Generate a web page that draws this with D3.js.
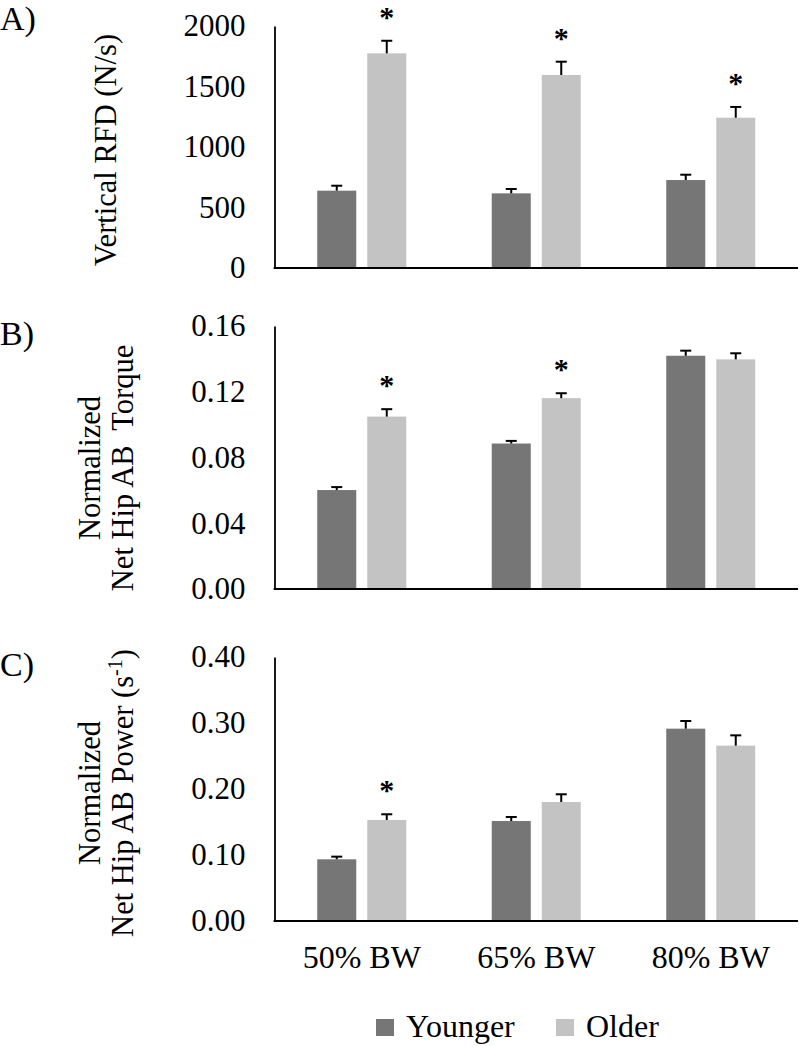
<!DOCTYPE html>
<html><head><meta charset="utf-8">
<script src="https://cdn.jsdelivr.net/npm/d3@7"></script>
<style>
html,body{margin:0;padding:0;background:#fff;}
text{font-family:"Liberation Serif","Times New Roman",serif;fill:#000;}
</style></head>
<body><svg id="c" width="800" height="1046"></svg>
<script>
const categories = ["50% BW", "65% BW", "80% BW"];
const series = ["Younger", "Older"];

const rfdYounger = [639, 617, 727];
const rfdYoungerErr = [41, 36, 44];
const rfdOlder = [1774, 1595, 1242];
const rfdOlderErr = [104, 110, 89];
const rfdSig = [true, true, true];
const rfdTicks = [0, 500, 1000, 1500, 2000];

const torqueYounger = [0.0602, 0.0885, 0.1419];
const torqueYoungerErr = [0.0018, 0.0016, 0.0031];
const torqueOlder = [0.1049, 0.1161, 0.1397];
const torqueOlderErr = [0.0045, 0.0030, 0.0037];
const torqueSig = [true, true, false];
const torqueTicks = [0, 0.04, 0.08, 0.12, 0.16];

const powerYounger = [0.0935, 0.1515, 0.2914];
const powerYoungerErr = [0.0040, 0.0061, 0.0116];
const powerOlder = [0.1530, 0.1803, 0.2657];
const powerOlderErr = [0.0087, 0.0117, 0.0156];
const powerSig = [true, false, false];
const powerTicks = [0, 0.10, 0.20, 0.30, 0.40];

const colors = {"Younger": "#767676", "Older": "#c3c3c3"};
const TICK_FONT = 31, TITLE_FONT = 30.5, CAT_FONT = 32, LEG_FONT = 32, PANEL_FONT = 34;

const svg = d3.select("#c");
const axisX0 = 274.5, axisX1 = 798;

const x0 = d3.scaleBand().domain(categories).range([axisX0, axisX1]).padding(0);
const bw = x0.bandwidth();
const pairW = 89;
const x1 = d3.scaleBand().domain(series).range([(bw - pairW) / 2, (bw + pairW) / 2]).paddingInner(0.22).paddingOuter(0);

const panels = [
  {label: "A)", labelY: 30, top: 26, bottom: 268, max: 2000, ticks: rfdTicks, fmt: d3.format("d"),
   vals: {Younger: rfdYounger, Older: rfdOlder}, errs: {Younger: rfdYoungerErr, Older: rfdOlderErr}, sig: rfdSig,
   title: [["Vertical RFD (N/s)"]], titleY: 150},
  {label: "B)", labelY: 345, top: 326, bottom: 589, max: 0.16, ticks: torqueTicks, fmt: d3.format(".2f"),
   vals: {Younger: torqueYounger, Older: torqueOlder}, errs: {Younger: torqueYoungerErr, Older: torqueOlderErr}, sig: torqueSig,
   title: [["Normalized"], ["Net Hip AB\u00a0 Torque"]], titleY: 468},
  {label: "C)", labelY: 676, top: 657, bottom: 921, max: 0.40, ticks: powerTicks, fmt: d3.format(".2f"),
   vals: {Younger: powerYounger, Older: powerOlder}, errs: {Younger: powerYoungerErr, Older: powerOlderErr}, sig: powerSig,
   title: [["Normalized"], ["Net Hip AB Power (s", "-1", ")"]], titleY: 793}
];

panels.forEach((p, pi) => {
  const y = d3.scaleLinear().domain([0, p.max]).range([p.bottom, p.top]);
  const g = svg.append("g");

  // panel label
  g.append("text").attr("x", 0).attr("y", p.labelY).attr("font-size", PANEL_FONT).text(p.label);

  // bars
  const data = [];
  categories.forEach((c, i) => series.forEach(s => data.push({c, s, v: p.vals[s][i], e: p.errs[s][i], sig: s === "Older" && p.sig[i]})));

  g.selectAll("rect.bar").data(data).join("rect")
    .attr("class", "bar")
    .attr("x", d => x0(d.c) + x1(d.s))
    .attr("width", x1.bandwidth())
    .attr("y", d => y(d.v))
    .attr("height", d => y(0) - y(d.v))
    .attr("fill", d => colors[d.s]);

  // error bars
  const eb = g.selectAll("g.err").data(data).join("g").attr("class", "err")
    .attr("transform", d => `translate(${x0(d.c) + x1(d.s) + x1.bandwidth() / 2},0)`);
  eb.append("line").attr("x1", 0).attr("x2", 0)
    .attr("y1", d => y(d.v)).attr("y2", d => y(d.v + d.e))
    .attr("stroke", "#000").attr("stroke-width", 2);
  eb.append("line").attr("x1", -5.5).attr("x2", 5.5)
    .attr("y1", d => y(d.v + d.e)).attr("y2", d => y(d.v + d.e))
    .attr("stroke", "#000").attr("stroke-width", 2);

  // significance
  g.selectAll("text.sig").data(data.filter(d => d.sig)).join("text")
    .attr("class", "sig")
    .attr("x", d => x0(d.c) + x1(d.s) + x1.bandwidth() / 2)
    .attr("y", d => y(d.v + d.e) - 14)
    .attr("text-anchor", "middle").attr("font-size", 30).attr("font-weight", "bold").text("*");

  // y axis
  const ax = g.append("g").attr("transform", `translate(${axisX0},0)`)
    .call(d3.axisLeft(y).tickValues(p.ticks).tickFormat(p.fmt).tickSize(0).tickPadding(29));
  ax.select(".domain").attr("stroke", "#000").attr("stroke-width", 1.8);
  ax.selectAll(".tick text").attr("font-size", TICK_FONT).attr("font-family", "Liberation Serif").attr("fill", "#000");

  // x baseline
  g.append("line").attr("x1", axisX0 - 0.9).attr("x2", axisX1).attr("y1", y(0)).attr("y2", y(0))
    .attr("stroke", "#000").attr("stroke-width", 2);

  // y title
  const nLines = p.title.length;
  const baseXs = nLines === 1 ? [116] : [100, 133];
  p.title.forEach((parts, li) => {
    const t = g.append("text")
      .attr("transform", `translate(${baseXs[li]},${p.titleY}) rotate(-90)`)
      .attr("text-anchor", "middle").attr("font-size", TITLE_FONT);
    parts.forEach((s, k) => {
      const ts = t.append("tspan").text(s);
      if (parts.length === 3 && k === 1) ts.attr("font-size", 20).attr("dy", -11);
      if (parts.length === 3 && k === 2) ts.attr("dy", 11);
    });
  });
});

// category labels
svg.append("g").selectAll("text").data(categories).join("text")
  .attr("x", d => x0(d) + bw / 2)
  .attr("y", 968)
  .attr("text-anchor", "middle").attr("font-size", CAT_FONT).text(d => d);

// legend
const legX = {"Younger": 376, "Older": 556};
const lg = svg.append("g").selectAll("g").data(series).join("g")
  .attr("transform", d => `translate(${legX[d]},1019)`);
lg.append("rect").attr("width", 18).attr("height", 17).attr("fill", d => colors[d]);
lg.append("text").attr("x", 30).attr("y", 18).attr("font-size", LEG_FONT).text(d => d);
</script>
</body></html>
